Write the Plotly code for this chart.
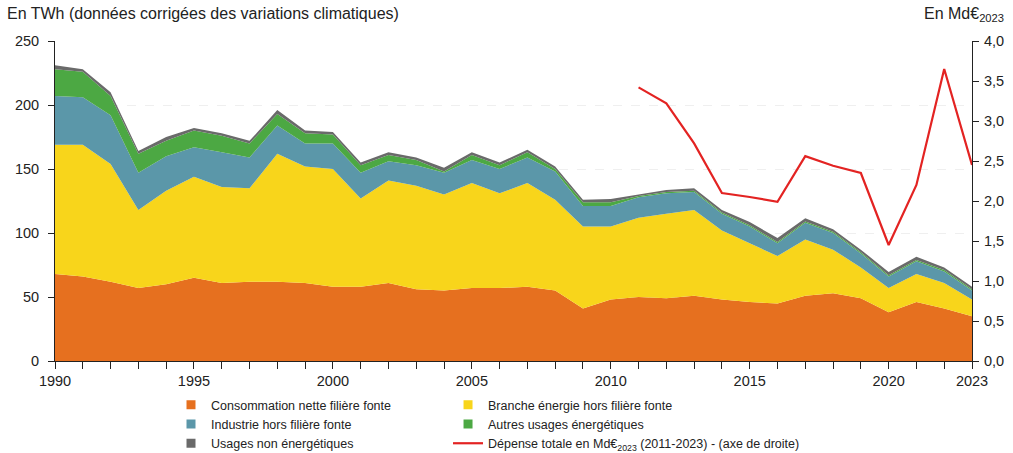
import plotly.graph_objects as go

# données (TWh, corrigées des variations climatiques)
annees = list(range(1990, 2024))

conso_fonte = [68, 66, 62, 57, 60, 65, 61, 62, 62, 61, 58, 58, 61, 56, 55, 57, 57, 58, 55, 41,
               48, 50, 49, 51, 48, 46, 45, 51, 53, 49, 38, 46, 41, 35]
branche_energie = [101, 103, 92, 61, 73, 79, 75, 73, 100, 91, 92, 69, 80, 81, 75, 82, 74, 81, 71, 64,
                   57, 62, 66, 67, 54, 46, 37, 44, 34, 24, 19, 22, 20, 13]
industrie = [38, 37, 38, 29, 27, 23, 27, 24, 22, 18, 20, 20, 15, 16, 17, 18, 19, 20, 22, 16,
             16, 16, 16, 14, 13, 13, 10, 13, 13, 11, 9, 10, 9, 7]
autres_usages = [21, 20, 15, 15, 12, 13, 13, 11, 9, 8, 7, 6, 5, 4, 1, 4, 3, 4, 2, 3,
                 3, 1, 1, 1, 1, 1, 1, 1, 1, 1, 1, 1, 1, 1]
non_energetiques = [3, 2, 3, 2, 3, 2, 2, 2, 3, 2, 2, 2, 2, 2, 3, 2, 2, 2, 2, 2,
                    2.5, 1, 1.5, 2, 2, 2.5, 3, 2.5, 2, 2, 2.5, 2.5, 2, 2]

# dépense totale en Md€2023 (axe de droite)
annees_dep = list(range(2011, 2024))
depense = [3.42, 3.22, 2.72, 2.10, 2.05, 1.99, 2.56, 2.44, 2.35, 1.45, 2.20, 3.65, 2.45]

couleurs = ["#E6701F", "#F8D51B", "#5B97A9", "#4CA843", "#6A6A6A"]
noms = ["Consommation nette filière fonte", "Branche énergie hors filière fonte",
        "Industrie hors filière fonte", "Autres usages énergétiques", "Usages non énergétiques"]
series = [conso_fonte, branche_energie, industrie, autres_usages, non_energetiques]

fig = go.Figure()

# aires empilées
for nom, vals, c in zip(noms, series, couleurs):
    fig.add_trace(go.Scatter(x=annees, y=vals, name=nom, stackgroup="a", mode="none",
                             fillcolor=c, showlegend=False, hoverinfo="x+y+name"))

# entrées de légende (carrés), deux colonnes
legende = {noms[0]: "legend", noms[2]: "legend", noms[4]: "legend",
           noms[1]: "legend2", noms[3]: "legend2"}
for nom in [noms[0], noms[2], noms[4], noms[1], noms[3]]:
    c = couleurs[noms.index(nom)]
    fig.add_trace(go.Scatter(x=[None], y=[None], mode="markers", name=nom,
                             marker=dict(symbol="square", size=9, color=c),
                             legend=legende[nom]))

fig.add_trace(go.Scatter(x=annees_dep, y=depense, mode="lines", yaxis="y2",
                         name="Dépense totale en Md€<sub>2023</sub> (2011-2023) - (axe de droite)",
                         line=dict(color="#E32322", width=2.2), legend="legend2"))

axe = dict(showline=True, linecolor="#222", linewidth=1, ticks="outside", ticklen=6,
           tickcolor="#222", tickfont=dict(size=14.5, color="#222"), zeroline=False, automargin=False)

leg = dict(xanchor="left", yanchor="top", bgcolor="rgba(0,0,0,0)", traceorder="normal",
           font=dict(size=12.5, color="#222"), tracegroupgap=0, itemwidth=30)

fig.update_layout(
    width=1013, height=453,
    margin=dict(l=55, r=41, t=41, b=92, autoexpand=False),
    plot_bgcolor="white", paper_bgcolor="white",
    font=dict(family="Liberation Sans, Arial, sans-serif", color="#222"),
    separators=", ",
    xaxis=dict(axe, range=[1990, 2023], tickvals=[1990, 1995, 2000, 2005, 2010, 2015, 2020, 2023],
               showgrid=False, ticklen=7,
               minor=dict(dtick=1, tick0=1990, ticks="outside", ticklen=7, tickcolor="#222", showgrid=False)),
    yaxis=dict(axe, range=[0, 250], dtick=50, showgrid=True, gridcolor="#efefef",
               griddash="dash", gridwidth=1, ticklabelstandoff=6),
    yaxis2=dict(axe, range=[0, 4], dtick=0.5, tickformat=".1f", overlaying="y", side="right",
                showgrid=False, ticklabelstandoff=2),
    legend=dict(leg, x=0.1265, y=-0.091),
    legend2=dict(leg, x=0.4286, y=-0.091),
    showlegend=True,
)

fig.add_annotation(text="En TWh (données corrigées des variations climatiques)", xref="paper", yref="paper",
                   x=-0.054, y=1.119, xanchor="left", yanchor="top", showarrow=False,
                   font=dict(size=16, color="#222"))
fig.add_annotation(text="En Md€<sub>2023</sub>", xref="paper", yref="paper",
                   x=1.037, y=1.119, xanchor="right", yanchor="top", showarrow=False,
                   font=dict(size=16, color="#222"))

# pas de marge autour du graphique dans la page
fig.write_html("out.html", config={"displayModeBar": False},
               post_script="document.body.style.margin='0';")
